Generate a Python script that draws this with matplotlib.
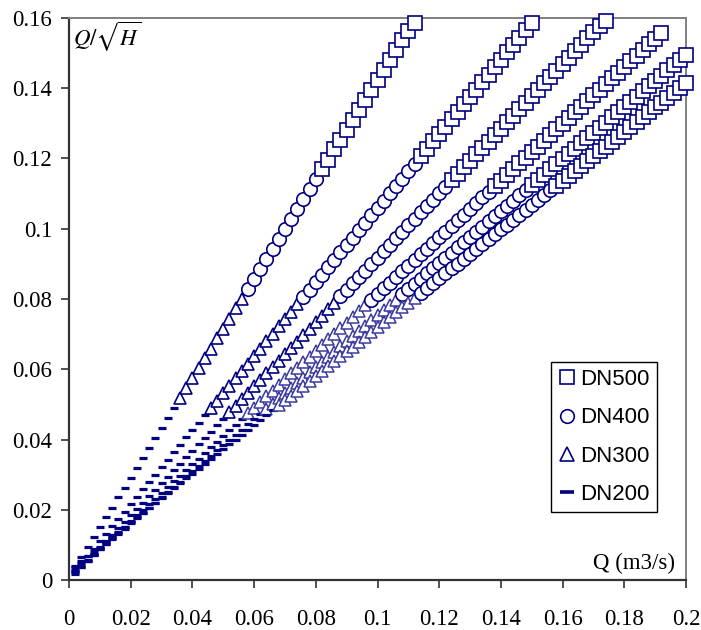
import numpy as np
import matplotlib
matplotlib.use("Agg")
import matplotlib.pyplot as plt
from matplotlib.lines import Line2D

plt.rcParams['mathtext.fontset'] = 'stix'

# --- data: Q on a 2 L/s grid, Q/sqrt(H) values in (L/s)/sqrt(m), one list per curve ---
q_step = 2  # L/s

ratio_a = [3.6, 6.5, 9.3, 12.1, 15.0, 17.8, 20.6, 23.5, 26.3, 29.1,
           32.0, 34.8, 37.6, 40.4, 43.3, 46.1, 48.9, 51.8, 54.6, 57.4,
           60.3, 63.1, 65.9, 68.8, 71.6, 74.4, 77.3, 80.1, 82.9, 85.8,
           88.6, 91.4, 94.3, 97.1, 99.9, 102.8, 105.6, 108.4, 111.2, 114.1,
           116.9, 119.7, 122.6, 125.4, 128.2, 131.1, 133.9, 136.7, 139.6, 142.4,
           145.2, 148.1, 150.9, 153.7, 156.2, 158.6]
ratio_b = [2.6, 4.7, 6.8, 8.9, 11.0, 13.1, 15.3, 17.4, 19.5, 21.6,
           23.7, 25.8, 27.9, 30.0, 32.1, 34.2, 36.3, 38.4, 40.6, 42.7,
           44.8, 46.9, 49.0, 51.1, 53.2, 55.3, 57.4, 59.5, 61.6, 63.7,
           65.8, 68.0, 70.1, 72.2, 74.3, 76.4, 78.5, 80.6, 82.7, 84.8,
           86.9, 89.0, 91.1, 93.3, 95.4, 97.5, 99.6, 101.7, 103.8, 105.9,
           108.0, 110.1, 112.2, 114.3, 116.4, 118.5, 120.7, 122.8, 124.9, 127.0,
           129.1, 131.2, 133.3, 135.4, 137.5, 139.6, 141.7, 143.8, 146.0, 148.1,
           150.2, 152.3, 154.4, 156.5, 158.6]
ratio_c = [1.8, 3.7, 5.5, 7.3, 9.2, 11.0, 12.9, 14.7, 16.5, 18.4,
           20.2, 22.0, 23.9, 25.7, 27.5, 29.4, 31.2, 33.0, 34.9, 36.7,
           38.6, 40.4, 42.2, 44.1, 45.9, 47.7, 49.6, 51.4, 53.2, 55.1,
           56.9, 58.8, 60.6, 62.4, 64.3, 66.1, 67.9, 69.8, 71.6, 73.4,
           75.3, 77.1, 78.9, 80.8, 82.6, 84.5, 86.3, 88.1, 90.0, 91.8,
           93.6, 95.5, 97.3, 99.1, 101.0, 102.8, 104.7, 106.5, 108.3, 110.2,
           112.0, 113.8, 115.7, 117.5, 119.3, 121.2, 123.0, 124.8, 126.7, 128.5,
           130.4, 132.2, 134.0, 135.9, 137.7, 139.5, 141.4, 143.2, 145.0, 146.9,
           148.7, 150.6, 152.4, 154.2, 156.0, 157.7, 159.2]
ratio_d = [2.2, 3.8, 5.4, 7.1, 8.7, 10.3, 11.9, 13.5, 15.1, 16.8,
           18.4, 20.0, 21.6, 23.2, 24.8, 26.5, 28.1, 29.7, 31.3, 32.9,
           34.5, 36.2, 37.8, 39.4, 41.0, 42.6, 44.2, 45.8, 47.5, 49.1,
           50.7, 52.3, 53.9, 55.5, 57.2, 58.8, 60.4, 62.0, 63.6, 65.2,
           66.9, 68.5, 70.1, 71.7, 73.3, 74.9, 76.6, 78.2, 79.8, 81.4,
           83.0, 84.6, 86.2, 87.9, 89.5, 91.1, 92.7, 94.3, 95.9, 97.6,
           99.2, 100.8, 102.4, 104.0, 105.6, 107.3, 108.9, 110.5, 112.1, 113.7,
           115.3, 117.0, 118.6, 120.2, 121.8, 123.4, 125.0, 126.6, 128.3, 129.9,
           131.5, 133.1, 134.7, 136.3, 138.0, 139.6, 141.2, 142.8, 144.4, 146.0,
           147.7, 149.3, 150.9, 152.5, 154.1, 155.7]
ratio_e = [2.8, 4.3, 5.7, 7.2, 8.7, 10.2, 11.7, 13.2, 14.6, 16.1,
           17.6, 19.1, 20.6, 22.0, 23.5, 25.0, 26.5, 28.0, 29.5, 30.9,
           32.4, 33.9, 35.4, 36.9, 38.4, 39.8, 41.3, 42.8, 44.3, 45.8,
           47.2, 48.7, 50.2, 51.7, 53.2, 54.7, 56.1, 57.6, 59.1, 60.6,
           62.1, 63.5, 65.0, 66.5, 68.0, 69.5, 71.0, 72.4, 73.9, 75.4,
           76.9, 78.4, 79.8, 81.3, 82.8, 84.3, 85.8, 87.3, 88.7, 90.2,
           91.7, 93.2, 94.7, 96.1, 97.6, 99.1, 100.6, 102.1, 103.6, 105.0,
           106.5, 108.0, 109.5, 111.0, 112.5, 113.9, 115.4, 116.9, 118.4, 119.9,
           121.3, 122.8, 124.3, 125.8, 127.3, 128.8, 130.2, 131.7, 133.2, 134.7,
           136.2, 137.6, 139.1, 140.6, 142.1, 143.6, 145.1, 146.5, 148.0, 149.5]
ratio_f = [3.9, 5.3, 6.7, 8.1, 9.5, 10.8, 12.2, 13.6, 15.0, 16.4,
           17.8, 19.2, 20.6, 22.0, 23.4, 24.7, 26.1, 27.5, 28.9, 30.3,
           31.7, 33.1, 34.5, 35.9, 37.3, 38.6, 40.0, 41.4, 42.8, 44.2,
           45.6, 47.0, 48.4, 49.8, 51.2, 52.5, 53.9, 55.3, 56.7, 58.1,
           59.5, 60.9, 62.3, 63.7, 65.1, 66.4, 67.8, 69.2, 70.6, 72.0,
           73.4, 74.8, 76.2, 77.6, 79.0, 80.3, 81.7, 83.1, 84.5, 85.9,
           87.3, 88.7, 90.1, 91.5, 92.9, 94.2, 95.6, 97.0, 98.4, 99.8,
           101.2, 102.6, 104.0, 105.4, 106.8, 108.1, 109.5, 110.9, 112.3, 113.7,
           115.1, 116.5, 117.9, 119.3, 120.7, 122.0, 123.4, 124.8, 126.2, 127.6,
           129.0, 130.4, 131.8, 133.2, 134.6, 135.9, 137.3, 138.7, 140.1, 141.5]

curves = [ratio_a, ratio_b, ratio_c, ratio_d, ratio_e, ratio_f]
# last Q (L/s) drawn with each diameter's marker, per curve
dn200_last_q = [34, 44, 50, 56, 62, 66]
dn300_last_q = [56, 74, 86, 96, 106, 112]
dn400_last_q = [80, 112, 122, 136, 148, 156]
pale_dn300 = [False, False, False, True, True, True]

x_ticks = [0, 0.02, 0.04, 0.06, 0.08, 0.1, 0.12, 0.14, 0.16, 0.18, 0.2]
y_ticks = [0, 0.02, 0.04, 0.06, 0.08, 0.1, 0.12, 0.14, 0.16]

navy = '#000080'
pale = '#3a3a9e'

# --- styles ---
sq_style = dict(ls='none', marker='s', ms=9.4, mfc='white', mec=navy, mew=1.2)
ci_style = dict(ls='none', marker='o', ms=9.7, mfc='white', mec=navy, mew=1.2)
tr_style = dict(ls='none', marker='^', ms=8.4, mfc='white', mec=navy, mew=1.2)
da_style = dict(ls='none', marker='_', ms=6.2, mec=navy, mew=2.3)

fig = plt.figure(figsize=(7.01, 6.30), dpi=100)
ax = fig.add_axes([69 / 701, 50 / 630, 617 / 701, 562 / 630])

for ratio, q200, q300, q400, is_pale in zip(curves, dn200_last_q, dn300_last_q,
                                            dn400_last_q, pale_dn300):
    r = np.array(ratio) / 1000
    q_ls = q_step * np.arange(1, len(r) + 1)
    q = q_ls / 1000
    m200 = q_ls <= q200
    m300 = (q_ls > q200) & (q_ls <= q300)
    m400 = (q_ls > q300) & (q_ls <= q400)
    m500 = q_ls > q400

    tr = dict(tr_style)
    if is_pale:
        tr.update(mec=pale, mew=1.1)
    ax.plot(q[m200], r[m200], clip_on=False, zorder=3, **da_style)
    ax.plot(q[m300], r[m300], clip_on=False, zorder=3, **tr)
    ax.plot(q[m400], r[m400], clip_on=False, zorder=3, **ci_style)
    ax.plot(q[m500], r[m500], clip_on=False, zorder=3, **sq_style)

ax.set_xlim(0, 0.2)
ax.set_ylim(0, 0.16)
ax.set_xticks(x_ticks)
ax.set_yticks(y_ticks)
ax.set_xticklabels([f'{v:g}' for v in x_ticks])
ax.set_yticklabels([f'{v:g}' for v in y_ticks])

for lab in ax.get_xticklabels() + ax.get_yticklabels():
    lab.set_fontfamily('Liberation Serif')
    lab.set_fontsize(16.5)

ax.tick_params(axis='both', direction='out', length=6, width=1.2, color='#333333')
ax.tick_params(axis='x', pad=15)
ax.tick_params(axis='y', pad=6)

for side in ['left', 'bottom']:
    ax.spines[side].set_color('#333333')
    ax.spines[side].set_linewidth(1.6)
for side in ['top', 'right']:
    ax.spines[side].set_color('#808080')
    ax.spines[side].set_linewidth(1.4)

ax.text(0.007, 0.966, r'$Q/\sqrt{H}$', transform=ax.transAxes,
        fontsize=16.5, ha='left', va='center')
ax.text(0.982, 0.029, 'Q (m3/s)', transform=ax.transAxes,
        fontsize=16.5, family='Liberation Serif', ha='right', va='center')

# --- legend ---
handles = [
    Line2D([], [], ls='none', marker='s', ms=9.6, mfc='white', mec=navy, mew=1.2),
    Line2D([], [], ls='none', marker='o', ms=9.8, mfc='white', mec=navy, mew=1.2),
    Line2D([], [], ls='none', marker='^', ms=10.5, mfc='white', mec=navy, mew=1.2),
    Line2D([], [], ls='none', marker='_', ms=10.5, mec=navy, mew=2.6),
]
leg = ax.legend(handles, ['DN500', 'DN400', 'DN300', 'DN200'],
                loc='upper right', bbox_to_anchor=(0.953, 0.388),
                bbox_transform=ax.transAxes, borderaxespad=0,
                prop={'family': 'Liberation Sans', 'size': 16},
                frameon=True, fancybox=False, edgecolor='black',
                framealpha=1, labelspacing=0.78, borderpad=0.32,
                handlelength=0.75, handletextpad=0.25)
leg.get_frame().set_linewidth(1.0)
leg.set_zorder(5)

fig.savefig('out.png', dpi=100)
